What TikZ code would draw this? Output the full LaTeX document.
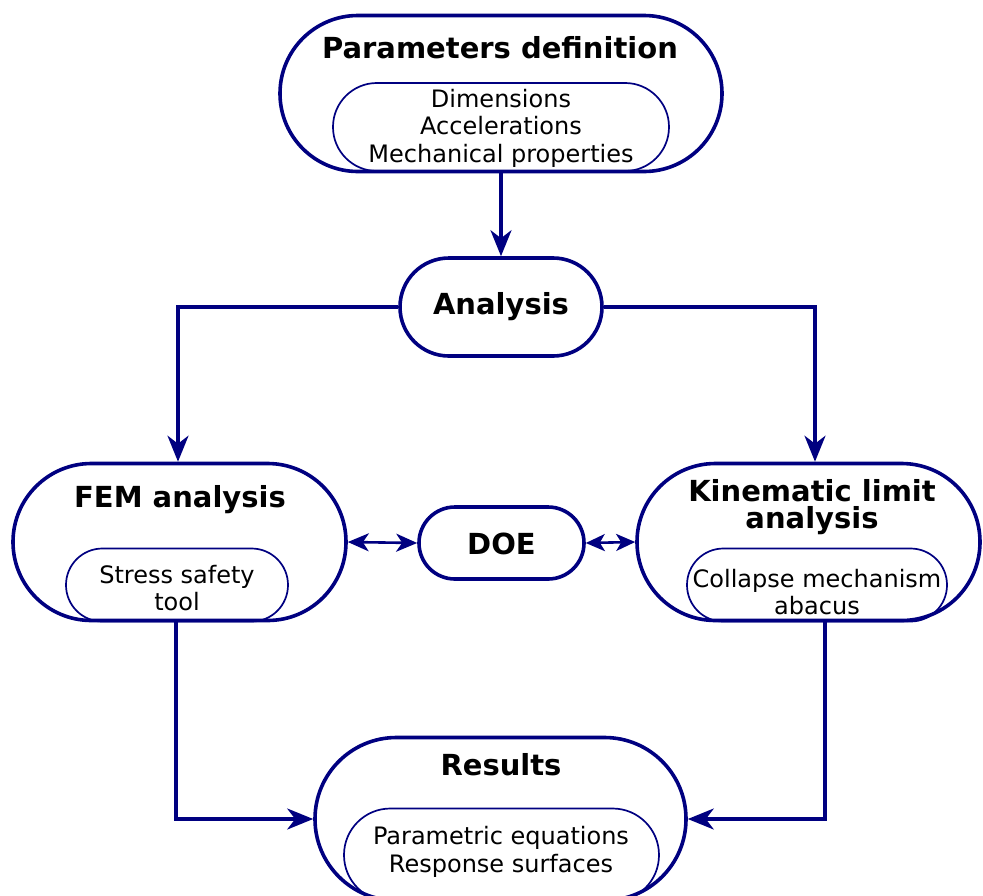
\documentclass[tikz,border=0pt]{standalone}
\usepackage{fontspec}
\setmainfont{DejaVu Sans}
\usetikzlibrary{arrows.meta}
\definecolor{flownavy}{RGB}{0,0,128}
\begin{document}
\begin{tikzpicture}[x=1pt,y=-1pt,
  outerbox/.style={draw=flownavy, line width=3.6pt, rectangle, inner sep=0pt},
  innerbox/.style={draw=flownavy, line width=1.7pt, rectangle, inner sep=0pt},
  titletext/.style={font=\fontsize{29}{27}\selectfont\bfseries, align=center, inner sep=0pt},
  bodytext/.style={font=\fontsize{24}{27.5}\selectfont, align=center, inner sep=0pt},
  flow/.style={draw=flownavy, line width=3.3pt, -{Stealth[length=26pt,width=21pt,inset=8pt]}},
  dblflow/.style={draw=flownavy, line width=2.6pt, {Stealth[length=21pt,width=18pt,inset=6pt]}-{Stealth[length=21pt,width=18pt,inset=6pt]}},
  dblflowsmall/.style={draw=flownavy, line width=2.6pt, {Stealth[length=19pt,width=17pt,inset=5pt]}-{Stealth[length=19pt,width=17pt,inset=5pt]}},
]
\useasboundingbox (0,0) rectangle (983,895);

% outer shapes
\node[outerbox, minimum width=442pt, minimum height=156pt, rounded corners=77.9pt] (P) at (501,93.5) {};
\node[outerbox, minimum width=202pt, minimum height=98pt, rounded corners=48.9pt] (A) at (501,307) {};
\node[outerbox, minimum width=333pt, minimum height=157pt, rounded corners=78.4pt] (F) at (179.5,542) {};
\node[outerbox, minimum width=165pt, minimum height=72pt, rounded corners=35.9pt] (D) at (501.5,543) {};
\node[outerbox, minimum width=343pt, minimum height=157pt, rounded corners=78.4pt] (K) at (808.5,542) {};
\node[outerbox, minimum width=371pt, minimum height=163pt, rounded corners=81.4pt] (R) at (500.5,819) {};

% inner shapes
\node[innerbox, minimum width=336pt, minimum height=88pt, rounded corners=43.9pt] (Pi) at (501,127) {};
\node[innerbox, minimum width=222pt, minimum height=73pt, rounded corners=36.4pt] (Fi) at (177,585) {};
\node[innerbox, minimum width=260pt, minimum height=73pt, rounded corners=36.4pt] (Ki) at (817,585) {};
\node[innerbox, minimum width=315pt, minimum height=93pt, rounded corners=46.4pt] (Ri) at (501.5,855) {};

% texts
\node[titletext] (tP) at (500,48) {Parameters definition};
\node[bodytext] (tPi) at (501,128) {Dimensions\\Accelerations\\Mechanical properties};
\node[titletext] (tA) at (501,307) {Analysis};
\node[titletext] (tF) at (180,500) {FEM analysis};
\node[bodytext] (tFi) at (177,588) {Stress safety\\tool};
\node[titletext] (tD) at (501.5,544) {DOE};
\node[titletext] (tK) at (812,507) {Kinematic limit\\analysis};
\node[bodytext] (tKi) at (817,592) {Collapse mechanism\\abacus};
\node[titletext] (tR) at (501,765) {Results};
\node[bodytext] (tRi) at (501,852) {Parametric equations\\Response surfaces};

% connectors
\draw[flow] (P.south) -- (A.north);
\draw[flow] (A.west) -| ([xshift=-1.5pt]F.north);
\draw[flow] (A.east) -| ([xshift=6.5pt]K.north);
\draw[flow] ([xshift=-3.5pt]F.south) |- (R.west);
\draw[flow] ([xshift=16.5pt]K.south) |- (R.east);
\draw[dblflow] (F.east) -- (D.west);
\draw[dblflowsmall] (D.east) -- (K.west);
\end{tikzpicture}
\end{document}
